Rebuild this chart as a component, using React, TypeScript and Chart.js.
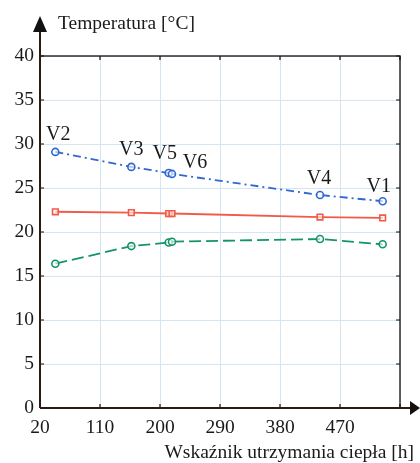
import React, { useEffect, useRef } from 'react';
import { Chart, registerables } from 'chart.js';

Chart.register(...registerables);

// Data (ordered by x)
const pointNames = ['V2', 'V3', 'V5', 'V6', 'V4', 'V1'];
const xValues = [43, 157, 213, 218, 440, 534];
const blueSeries = [29.1, 27.4, 26.7, 26.6, 24.2, 23.5];
const redSeries = [22.3, 22.2, 22.1, 22.1, 21.7, 21.6];
const greenSeries = [16.4, 18.4, 18.8, 18.9, 19.2, 18.6];
const xTickValues = [20, 110, 200, 290, 380, 470, 560];
const xTickLabels = ['20', '110', '200', '290', '380', '470', ''];
const yTickValues = [0, 5, 10, 15, 20, 25, 30, 35, 40];

// label placement offsets (style)
const labelDx = [3, 0, -4, 23, -1, -4];
const labelDy = [-12, -12, -14, -6, -11, -9];

const FONT = "'Liberation Serif', 'Times New Roman', serif";

const decorPlugin = {
  id: 'decor',
  afterDraw(chart: any) {
    const ctx = chart.ctx;
    const { left, right, top, bottom } = chart.chartArea;
    const xs = chart.scales.x;
    const ys = chart.scales.y;
    ctx.save();
    // frame top and right
    ctx.strokeStyle = '#2d2d33';
    ctx.lineWidth = 1.5;
    ctx.beginPath();
    ctx.moveTo(left, top);
    ctx.lineTo(right, top);
    ctx.lineTo(right, bottom);
    ctx.stroke();
    // inner tick marks
    ctx.lineWidth = 1.2;
    ctx.strokeStyle = '#111';
    ctx.beginPath();
    xTickValues.forEach((v) => {
      const px = xs.getPixelForValue(v);
      ctx.moveTo(px, top);
      ctx.lineTo(px, top + 4);
      ctx.moveTo(px, bottom);
      ctx.lineTo(px, bottom - 4);
    });
    yTickValues.forEach((v) => {
      const py = ys.getPixelForValue(v);
      ctx.moveTo(right, py);
      ctx.lineTo(right - 4, py);
      ctx.moveTo(left, py);
      ctx.lineTo(left + 4, py);
    });
    ctx.stroke();
    // main axes
    ctx.strokeStyle = '#2a1a12';
    ctx.lineWidth = 2;
    ctx.beginPath();
    ctx.moveTo(left, bottom);
    ctx.lineTo(left, 30);
    ctx.moveTo(left, bottom);
    ctx.lineTo(411, bottom);
    ctx.stroke();
    // arrows
    ctx.fillStyle = '#111';
    ctx.beginPath();
    ctx.moveTo(left, 16);
    ctx.lineTo(left - 7, 32);
    ctx.lineTo(left + 7, 32);
    ctx.closePath();
    ctx.fill();
    ctx.beginPath();
    ctx.moveTo(420, bottom);
    ctx.lineTo(410, bottom - 7);
    ctx.lineTo(410, bottom + 7);
    ctx.closePath();
    ctx.fill();
    // titles
    ctx.fillStyle = '#1a1a1a';
    ctx.font = `19.5px ${FONT}`;
    ctx.textBaseline = 'alphabetic';
    ctx.textAlign = 'left';
    ctx.fillText('Temperatura [°C]', 58, 29);
    ctx.textAlign = 'right';
    ctx.fillText('Wskaźnik utrzymania ciepła [h]', 414, 458);
    // point labels
    ctx.font = `20px ${FONT}`;
    ctx.textAlign = 'center';
    pointNames.forEach((name, i) => {
      const px = xs.getPixelForValue(xValues[i]) + labelDx[i];
      const py = ys.getPixelForValue(blueSeries[i]) + labelDy[i];
      ctx.fillText(name, px, py);
    });
    ctx.restore();
  },
};

export default function App() {
  const canvasRef = useRef<HTMLCanvasElement | null>(null);
  useEffect(() => {
    document.body.style.margin = '0';
    const canvas = canvasRef.current;
    if (!canvas) return;
    const mk = (ys: number[]) => ys.map((y, i) => ({ x: xValues[i], y }));
    const chart = new Chart(canvas, {
      type: 'line',
      data: {
        datasets: [
          {
            label: 'blue',
            data: mk(blueSeries),
            borderColor: '#2f68d0',
            backgroundColor: '#ffffff',
            borderWidth: 1.8,
            borderDash: [8, 4, 2, 4],
            pointStyle: 'circle',
            pointRadius: 3.5,
            pointBorderWidth: 1.6,
            pointBorderColor: '#2f68d0',
            pointBackgroundColor: 'rgba(255,255,255,0.6)',
          },
          {
            label: 'red',
            data: mk(redSeries),
            borderColor: '#f25a48',
            backgroundColor: '#ffffff',
            borderWidth: 1.8,
            pointStyle: 'rect',
            pointRadius: 4,
            pointBorderWidth: 1.6,
            pointBorderColor: '#f25a48',
            pointBackgroundColor: 'rgba(255,255,255,0.6)',
          },
          {
            label: 'green',
            data: mk(greenSeries),
            borderColor: '#14946a',
            backgroundColor: '#ffffff',
            borderWidth: 1.8,
            borderDash: [12, 5],
            pointStyle: 'circle',
            pointRadius: 3.5,
            pointBorderWidth: 1.6,
            pointBorderColor: '#14946a',
            pointBackgroundColor: 'rgba(255,255,255,0.6)',
          },
        ],
      },
      options: {
        responsive: false,
        animation: false,
        events: [],
        layout: { padding: { top: 56, right: 20, left: 0, bottom: 0 } },
        plugins: { legend: { display: false }, tooltip: { enabled: false }, title: { display: false } },
        scales: {
          x: {
            type: 'linear',
            min: 20,
            max: 560,
            afterFit: (s: any) => { s.height = 55; },
            afterBuildTicks: (s: any) => { s.ticks = xTickValues.map((v) => ({ value: v })); },
            grid: { color: '#d3e6f1', lineWidth: 1, drawTicks: false },
            border: { display: false },
            ticks: {
              padding: 8,
              color: '#1a1a1a',
              font: { family: FONT, size: 19.5 },
              maxRotation: 0,
              autoSkip: false,
              callback: (v: any) => {
                const idx = xTickValues.indexOf(Number(v));
                return idx >= 0 ? xTickLabels[idx] : '';
              },
            },
          },
          y: {
            type: 'linear',
            min: 0,
            max: 40,
            afterFit: (s: any) => { s.width = 40; },
            afterBuildTicks: (s: any) => { s.ticks = yTickValues.map((v) => ({ value: v })); },
            grid: { color: '#d3e6f1', lineWidth: 1, drawTicks: false },
            border: { display: false },
            ticks: {
              padding: 6,
              color: '#1a1a1a',
              font: { family: FONT, size: 19.5 },
              autoSkip: false,
            },
          },
        },
      },
      plugins: [decorPlugin],
    });
    return () => chart.destroy();
  }, []);
  return <canvas ref={canvasRef} width={420} height={463} style={{ display: 'block' }} />;
}
